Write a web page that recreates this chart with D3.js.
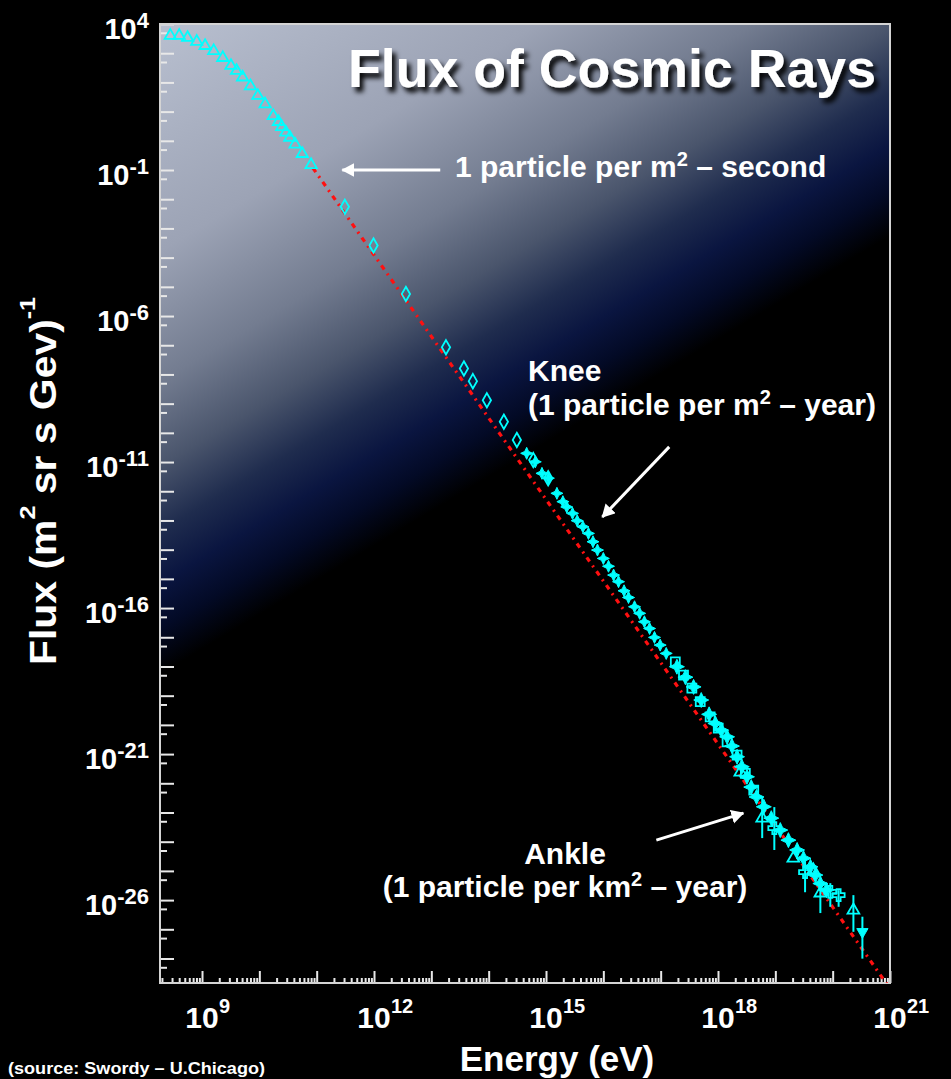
<!DOCTYPE html>
<html>
<head>
<meta charset="utf-8">
<script src="https://cdn.jsdelivr.net/npm/d3@7"></script>
<style>
    html, body { margin: 0; padding: 0; background: #000; }
    svg { display: block; }
    text { font-family: "Liberation Sans", Arial, sans-serif; font-weight: bold; fill: #fff; }
</style>
</head>
<body>
<div id="chart"></div>
<script>
/* low energy points, open triangles */
const tri_energy = [2.8e8, 4.0e8, 5.6e8, 8.1e8, 1.13e9, 1.6e9, 2.3e9, 3.2e9, 4.0e9, 5.1e9, 7.0e9,
    9.4e9, 1.26e10, 1.75e10, 2.15e10, 2.46e10, 2.9e10, 3.4e10, 4.2e10, 5.6e10, 8.0e10];
const tri_flux = [4.0e3, 4.0e3, 3.4e3, 2.5e3, 1.8e3, 1.2e3, 700, 373, 252, 150, 75,
    35, 18, 7.2, 4.5, 3.0, 1.95, 1.3, 0.76, 0.36, 0.15];

/* open diamonds */
const diamond_energy = [3.1e11, 9.8e11, 3.6e12, 1.8e13, 3.7e13, 5.3e13, 9.3e13, 1.84e14, 3.1e14, 6.0e14, 1.09e15];
const diamond_flux = [5.5e-3, 2.6e-4, 5.7e-6, 8.5e-8, 1.6e-8, 5.9e-9, 1.3e-9, 2.4e-10, 5.7e-11, 1.17e-11, 2.8e-12];

/* filled stars around the knee */
const star_energy = [4.6e14, 6.5e14, 8.5e14, 1.1e15, 1.55e15, 1.97e15, 2.3e15, 2.9e15, 3.5e15, 4.4e15,
    5.5e15, 6.6e15, 7.9e15, 1.0e16, 1.23e16, 1.51e16, 1.84e16, 2.3e16, 2.75e16, 3.5e16,
    4.3e16, 5.2e16, 6.4e16, 7.8e16, 9.8e16, 1.25e17];
const star_flux = [1.99e-11, 1.02e-11, 4.1e-12, 2.8e-12, 8.5e-13, 4.4e-13, 2.9e-13, 1.75e-13, 9.8e-14, 6.1e-14,
    3.6e-14, 1.87e-14, 9.7e-15, 5.0e-15, 2.7e-15, 1.35e-15, 8.0e-16, 3.9e-16, 2.3e-16, 1.11e-16,
    6.6e-17, 3.4e-17, 2.0e-17, 9.9e-18, 5.4e-18, 2.8e-18];

/* dense band of filled points above the knee */
const band_energy = [1.92e17, 2.7e17, 3.75e17, 5.1e17, 7.0e17, 9.0e17, 1.14e18, 1.44e18, 1.75e18, 2.15e18,
    2.6e18, 3.2e18, 3.8e18, 4.7e18, 6.3e18, 8.5e18, 1.22e19, 1.69e19, 2.4e19, 3.1e19,
    4.1e19, 5.0e19, 6.1e19, 7.8e19];
const band_flux = [9.8e-19, 4.3e-19, 2.0e-19, 7.1e-20, 2.3e-20, 1.12e-20, 6.6e-21, 3.9e-21, 1.88e-21, 8.1e-22,
    3.7e-22, 1.67e-22, 7.4e-23, 3.4e-23, 1.57e-23, 6.4e-24, 2.5e-24, 1.13e-24, 5.2e-25, 2.7e-25,
    1.38e-25, 7.2e-26, 3.7e-26, 2.2e-26];

/* open squares */
const square_energy = [1.8e17, 2.5e17, 3.5e17, 4.9e17, 7.3e17, 1.01e18, 1.44e18, 2.15e18, 3.0e18, 4.2e18];
const square_flux = [1.45e-18, 5.1e-19, 1.82e-19, 6.2e-20, 1.89e-20, 7.8e-21, 2.6e-21, 9.2e-22, 2.2e-22, 5.8e-23];

/* open triangles near the ankle, some with error bars */
const ankle_energy = [2.45e18, 5.9e18, 2.06e19, 4.6e19, 6.1e19, 2.3e20];
const ankle_flux = [2.4e-22, 6.4e-24, 2.7e-25, 1.06e-25, 1.74e-26, 4.5e-27];
const ankle_hi = [null, 3.4e-23, null, null, 3.8e-26, 1.48e-26];
const ankle_lo = [null, 1.33e-24, null, null, 3.6e-27, 8.2e-28];

/* open crosses with error bars */
const cross_energy = [9.6e18, 3.3e19, 9.1e19, 1.27e20];
const cross_flux = [2.9e-24, 9.1e-26, 1.92e-26, 1.48e-26];
const cross_hi = [1.53e-23, 2.3e-25, 3.8e-26, 2.2e-26];
const cross_lo = [5.2e-25, 1.86e-26, 5.9e-27, 5.9e-27];

/* highest energy point, filled down triangle */
const limit_energy = [3.3e20];
const limit_flux = [8.2e-28];
const limit_hi = [2.7e-27];
const limit_lo = [9.9e-29];

/* red dash-dot power law */
const fit_energy = [8.6e10, 1e21];
const fit_flux = [0.117, 9.3e-30];

/* axis labels (exponents of ten) */
const y_label_exponents = [4, -1, -6, -11, -16, -21, -26];
const x_label_exponents = [9, 12, 15, 18, 21];

const width = 951,
    height = 1079;
const plot = { left: 160, right: 890, top: 24, bottom: 983 };
const cyan = "#00ffff";

const svg = d3.select("#chart")
    .append("svg")
    .attr("width", width)
    .attr("height", height);

const x = d3.scaleLog().domain([1.85e8, 1e21]).range([plot.left, plot.right]);
const y = d3.scaleLog().domain([1.45e-29, 1e4]).range([plot.bottom, plot.top]);

const defs = svg.append("defs");

/* diagonal background: light grey top-left, dark slate, thin navy band, then black */
const grad = defs.append("linearGradient")
    .attr("id", "bg")
    .attr("gradientUnits", "userSpaceOnUse")
    .attr("x1", 160).attr("y1", 24)
    .attr("x2", 447).attr("y2", 502);
[
    [0, "#b8bfcf"],
    [0.35, "#9ca3b5"],
    [0.55, "#737c90"],
    [0.68, "#4a556c"],
    [0.78, "#1f2c4e"],
    [0.86, "#0a1540"],
    [0.93, "#030a26"],
    [1, "#000000"]
].forEach(s => grad.append("stop").attr("offset", s[0]).attr("stop-color", s[1]));

defs.append("clipPath").attr("id", "plotclip")
    .append("rect")
    .attr("x", plot.left).attr("y", plot.top)
    .attr("width", plot.right - plot.left).attr("height", plot.bottom - plot.top);

const shadow = defs.append("filter").attr("id", "shadow")
    .attr("x", "-10%").attr("y", "-30%").attr("width", "130%").attr("height", "180%");
shadow.append("feDropShadow")
    .attr("dx", 4).attr("dy", 5).attr("stdDeviation", 2.5)
    .attr("flood-color", "#000").attr("flood-opacity", 0.95);

svg.append("rect")
    .attr("x", plot.left).attr("y", plot.top)
    .attr("width", plot.right - plot.left).attr("height", plot.bottom - plot.top)
    .attr("fill", "url(#bg)");

/* ticks, drawn inward */
const y_major = d3.range(-28, 5).map(e => Math.pow(10, e));
const y_half = d3.range(-28, 5).map(e => 5 * Math.pow(10, e - 1));
const x_major = d3.range(9, 22).map(e => Math.pow(10, e));
const x_minor = [];
d3.range(8, 21).forEach(e => {
    d3.range(2, 10).forEach(k => {
        const v = k * Math.pow(10, e);
        if (v > x.domain()[0] && v < x.domain()[1]) x_minor.push(v);
    });
});

function styleTicks(g) {
    g.select(".domain").remove();
    g.selectAll("line").attr("stroke", "#e8e8e8").attr("stroke-width", 2);
}

svg.append("g").attr("transform", `translate(${plot.left},0)`)
    .call(d3.axisLeft(y).tickValues(y_major).tickSize(-14).tickFormat(""))
    .call(styleTicks);
svg.append("g").attr("transform", `translate(${plot.left},0)`)
    .call(d3.axisLeft(y).tickValues(y_half).tickSize(-7).tickFormat(""))
    .call(styleTicks);
svg.append("g").attr("transform", `translate(0,${plot.bottom})`)
    .call(d3.axisBottom(x).tickValues(x_major).tickSize(-12).tickFormat(""))
    .call(styleTicks);
svg.append("g").attr("transform", `translate(0,${plot.bottom})`)
    .call(d3.axisBottom(x).tickValues(x_minor).tickSize(-5).tickFormat(""))
    .call(styleTicks);

svg.append("rect")
    .attr("x", plot.left).attr("y", plot.top)
    .attr("width", plot.right - plot.left).attr("height", plot.bottom - plot.top)
    .attr("fill", "none")
    .attr("stroke", "#d4d4d4")
    .attr("stroke-width", 2);

/* tick labels */
y_label_exponents.forEach(e => {
    const t = svg.append("text")
        .attr("x", 149)
        .attr("y", y(Math.pow(10, e)) + 15)
        .attr("text-anchor", "end");
    t.append("tspan").attr("font-size", 29).text("10");
    t.append("tspan").attr("font-size", 22).attr("dy", -11).text(e);
});

x_label_exponents.forEach(e => {
    const px = x(Math.pow(10, e));
    svg.append("text")
        .attr("x", px).attr("y", 1028)
        .attr("text-anchor", "middle")
        .attr("font-size", 30)
        .text("10");
    svg.append("text")
        .attr("x", px + 17).attr("y", 1013)
        .attr("font-size", 20)
        .text(e);
});

/* axis titles */
const ylab = svg.append("text")
    .attr("transform", "translate(56,481) rotate(-90)")
    .attr("text-anchor", "middle")
    .attr("font-size", 36)
    .attr("textLength", 368)
    .attr("lengthAdjust", "spacingAndGlyphs");
ylab.append("tspan").text("Flux (m");
ylab.append("tspan").attr("font-size", 22).attr("dy", -21).text("2");
ylab.append("tspan").attr("dy", 21).text(" sr s Gev)");
ylab.append("tspan").attr("font-size", 22).attr("dy", -21).text("-1");

svg.append("text")
    .attr("x", 557).attr("y", 1071)
    .attr("text-anchor", "middle")
    .attr("font-size", 35)
    .text("Energy (eV)");

svg.append("text")
    .attr("x", 8).attr("y", 1074)
    .attr("font-size", 17)
    .attr("textLength", 257)
    .attr("lengthAdjust", "spacingAndGlyphs")
    .text("(source: Swordy \u2013 U.Chicago)");

/* red power law line */
const fitLine = d3.line()
    .x(d => x(d[0]))
    .y(d => y(d[1]));
svg.append("path")
    .datum(d3.zip(fit_energy, fit_flux))
    .attr("clip-path", "url(#plotclip)")
    .attr("d", fitLine)
    .attr("fill", "none")
    .attr("stroke", "#ff1010")
    .attr("stroke-width", 3.2)
    .attr("stroke-dasharray", "5 5 2 5");

/* four pointed star used for the knee data */
const star4 = {
    draw(context, size) {
        const r = Math.sqrt(size), ri = r * 0.45;
        for (let i = 0; i < 8; i++) {
            const a = i * Math.PI / 4 - Math.PI / 2;
            const rr = i % 2 ? ri : r;
            if (i === 0) context.moveTo(rr * Math.cos(a), rr * Math.sin(a));
            else context.lineTo(rr * Math.cos(a), rr * Math.sin(a));
        }
        context.closePath();
    }
};

const markers = svg.append("g").attr("clip-path", "url(#plotclip)");

function drawErrors(energy, hi, lo) {
    markers.append("g")
        .selectAll("line")
        .data(d3.range(energy.length).filter(i => hi[i] !== null))
        .join("line")
        .attr("x1", i => x(energy[i]))
        .attr("x2", i => x(energy[i]))
        .attr("y1", i => y(hi[i]))
        .attr("y2", i => y(lo[i]))
        .attr("stroke", cyan)
        .attr("stroke-width", 2);
}

function drawPoints(energy, flux, type, size, filled, rotate) {
    markers.append("g")
        .selectAll("path")
        .data(d3.zip(energy, flux))
        .join("path")
        .attr("transform", d => `translate(${x(d[0])},${y(d[1])})` + (rotate ? ` rotate(${rotate})` : ""))
        .attr("d", d3.symbol().type(type).size(size))
        .attr("fill", filled ? cyan : "none")
        .attr("stroke", cyan)
        .attr("stroke-width", filled ? 1 : 1.8);
}

drawErrors(ankle_energy, ankle_hi, ankle_lo);
drawErrors(cross_energy, cross_hi, cross_lo);
drawErrors(limit_energy, limit_hi, limit_lo);

drawPoints(tri_energy, tri_flux, d3.symbolTriangle, 55, false);
drawPoints(diamond_energy, diamond_flux, d3.symbolDiamond, 60, false);
drawPoints(star_energy, star_flux, star4, 36, true);
drawPoints(square_energy, square_flux, d3.symbolSquare, 80, false);
drawPoints(band_energy, band_flux, star4, 56, true);
drawPoints(ankle_energy, ankle_flux, d3.symbolTriangle, 60, false);
drawPoints(cross_energy, cross_flux, d3.symbolCross, 80, false);
drawPoints(limit_energy, limit_flux, d3.symbolTriangle, 55, true, 180);

/* annotations */
defs.append("marker")
    .attr("id", "head")
    .attr("markerUnits", "userSpaceOnUse")
    .attr("markerWidth", 16).attr("markerHeight", 16)
    .attr("refX", 12).attr("refY", 7)
    .attr("orient", "auto")
    .append("path")
    .attr("d", "M0,0 L13,7 L0,14 Z")
    .attr("fill", "#fff");

function arrow(e0, f0, e1, f1) {
    svg.append("line")
        .attr("x1", x(e0)).attr("y1", y(f0))
        .attr("x2", x(e1)).attr("y2", y(f1))
        .attr("stroke", "#fff")
        .attr("stroke-width", 3)
        .attr("marker-end", "url(#head)");
}

arrow(1.43e13, 0.1, 2.8e11, 0.1);
arrow(1.41e17, 3.3e-11, 9.6e15, 1.31e-13);
arrow(8.4e16, 1.13e-24, 2.77e18, 9.5e-24);

function note(px, py, anchor, parts) {
    const t = svg.append("text")
        .attr("x", px).attr("y", py)
        .attr("text-anchor", anchor)
        .attr("font-size", 30);
    parts.forEach(p => {
        if (p.sup) t.append("tspan").attr("font-size", 20).attr("dy", -11).text(p.sup);
        else t.append("tspan").attr("dy", p.back ? 11 : 0).text(p.text);
    });
}

note(455, 177, "start", [{ text: "1 particle per m" }, { sup: "2" }, { text: " \u2013 second", back: true }]);
note(528, 381, "start", [{ text: "Knee" }]);
note(528, 415, "start", [{ text: "(1 particle per m" }, { sup: "2" }, { text: " \u2013 year)", back: true }]);
note(565, 864, "middle", [{ text: "Ankle" }]);
note(565, 897, "middle", [{ text: "(1 particle per km" }, { sup: "2" }, { text: " \u2013 year)", back: true }]);

/* title */
svg.append("text")
    .attr("x", 348).attr("y", 87)
    .attr("font-size", 53)
    .attr("textLength", 528)
    .attr("lengthAdjust", "spacingAndGlyphs")
    .attr("filter", "url(#shadow)")
    .text("Flux of Cosmic Rays");
</script>
</body>
</html>
